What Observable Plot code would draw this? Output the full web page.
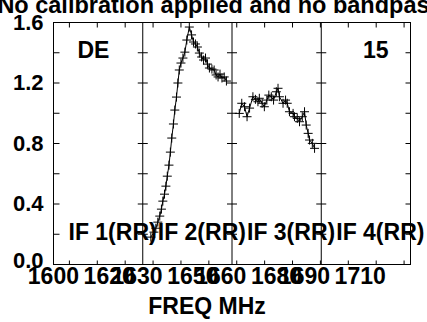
<!DOCTYPE html>
<html>
<head>
<meta charset="utf-8">
<script src="https://cdn.jsdelivr.net/npm/d3@7"></script>
<script src="https://cdn.jsdelivr.net/npm/@observablehq/plot@0.6"></script>
<style>
  html, body { margin: 0; padding: 0; background: white; overflow: hidden; }
</style>
</head>
<body>
<div id="chart"></div>
<script>
// ---- data ----
const title = "No calibration applied and no bandpass";
const sourceLabel = "DE";
const baselineLabel = "15";
const xAxisLabel = "FREQ MHz";
const panelEdges = [1594.3, 1626.3, 1658.3, 1690.3, 1722.3];
const ifLabels = ["IF 1(RR)", "IF 2(RR)", "IF 3(RR)", "IF 4(RR)"];
const xTickLabels = [1600, 1620, 1630, 1650, 1660, 1680, 1690, 1710];
const xMinorTicks = [1600, 1610, 1620, 1630, 1640, 1650, 1660, 1670, 1680, 1690, 1700, 1710, 1720];
const yLabels = [0.0, 0.4, 0.8, 1.2, 1.6];
const yMinorTicks = [0.2, 0.4, 0.6, 0.8, 1.0, 1.2, 1.4];

const if2Freq = [1629.2, 1630.3, 1631.0, 1631.7, 1632.4, 1633.0, 1633.5, 1634.1, 1634.6, 1635.1,
                 1635.7, 1636.2, 1636.7, 1637.3, 1637.8, 1638.4, 1638.9, 1639.4, 1640.0, 1640.7,
                 1641.4, 1642.1, 1643.0, 1643.8, 1644.5, 1645.2, 1645.9, 1646.6, 1647.4, 1648.1,
                 1648.8, 1649.5, 1650.2, 1651.1, 1651.9, 1652.6, 1653.3, 1654.0, 1654.7, 1655.5, 1656.3];
const if2Amp  = [0.181, 0.214, 0.240, 0.280, 0.320, 0.366, 0.419, 0.465, 0.518, 0.584,
                 0.657, 0.743, 0.836, 0.929, 1.021, 1.107, 1.200, 1.286, 1.332, 1.365,
                 1.404, 1.484, 1.570, 1.518, 1.471, 1.458, 1.438, 1.398, 1.372, 1.352,
                 1.365, 1.325, 1.299, 1.292, 1.286, 1.253, 1.240, 1.259, 1.233, 1.240, 1.213];

const if3Freq = [1660.9, 1661.8, 1662.8, 1663.7, 1664.6, 1665.8, 1666.7, 1667.6, 1668.1, 1669.1,
                 1669.9, 1670.8, 1671.5, 1672.4, 1673.2, 1674.2, 1674.8, 1675.3, 1676.6, 1677.5,
                 1678.1, 1678.9, 1680.2, 1680.7, 1681.7, 1682.5, 1683.5, 1684.3, 1684.9, 1685.6,
                 1686.1, 1687.1, 1687.9];
const if3Amp  = [0.999, 1.066, 1.043, 0.977, 1.034, 1.109, 1.092, 1.076, 1.099, 1.066,
                 1.043, 1.087, 1.120, 1.109, 1.087, 1.142, 1.165, 1.109, 1.066, 1.087,
                 1.066, 1.010, 0.999, 0.977, 0.966, 0.944, 0.977, 1.010, 0.922, 0.867,
                 0.823, 0.801, 0.768];

// ---- tables built from the arrays ----
const rows = [
  ...if2Freq.map((f, i) => ({ifnum: 2, freq: f, amp: if2Amp[i]})),
  ...if3Freq.map((f, i) => ({ifnum: 3, freq: f, amp: if3Amp[i]}))
];
const innerEdges = panelEdges.slice(1, -1);
const leftEdge = panelEdges[0];
const rightEdge = panelEdges[panelEdges.length - 1];
const yTop = yLabels[yLabels.length - 1];
const yBottom = yLabels[0];

// custom stroke symbols
const mk = (fn) => ({draw(ctx, size) { const r = Math.sqrt(size / Math.PI); fn(ctx, r); }});
const plusSym  = mk((c, r) => { c.moveTo(-r, 0); c.lineTo(r, 0); c.moveTo(0, -r); c.lineTo(0, r); });
const tickR    = mk((c, r) => { c.moveTo(0, 0); c.lineTo(r, 0); });
const tickL    = mk((c, r) => { c.moveTo(-r, 0); c.lineTo(0, 0); });
const tickLR   = mk((c, r) => { c.moveTo(-r, 0); c.lineTo(r, 0); });
const tickUp   = mk((c, r) => { c.moveTo(0, 0); c.lineTo(0, -r); });
const tickDown = mk((c, r) => { c.moveTo(0, 0); c.lineTo(0, r); });

const font = "'Liberation Sans', Arial, Helvetica, sans-serif";
const fs = 23;

const chart = Plot.plot({
  width: 427,
  height: 322,
  marginLeft: 53,
  marginRight: 17,
  marginTop: 22,
  marginBottom: 58,
  x: {domain: [leftEdge, rightEdge], axis: null},
  y: {domain: [yBottom, yTop], axis: null},
  style: {fontFamily: font, fontWeight: "bold", fontSize: fs + "px", background: "white", overflow: "hidden"},
  marks: [
    Plot.frame({stroke: "black", strokeWidth: 1}),
    Plot.ruleX(innerEdges, {stroke: "black", strokeWidth: 1}),
    // y ticks
    Plot.dot(yMinorTicks, {x: () => leftEdge, y: d => d, symbol: tickR, r: 6, fill: "none", stroke: "black", strokeWidth: 1}),
    Plot.dot(yMinorTicks, {x: () => rightEdge, y: d => d, symbol: tickL, r: 5, fill: "none", stroke: "black", strokeWidth: 1}),
    Plot.dot(d3.cross(yMinorTicks, innerEdges), {x: d => d[1], y: d => d[0], symbol: tickLR, r: 5, fill: "none", stroke: "black", strokeWidth: 1}),
    // x ticks
    Plot.dot(xMinorTicks, {x: d => d, y: () => yTop, symbol: tickDown, r: 5, fill: "none", stroke: "black", strokeWidth: 1}),
    Plot.dot(xMinorTicks, {x: d => d, y: () => yBottom, symbol: tickUp, r: 4, fill: "none", stroke: "black", strokeWidth: 1}),
    // data
    Plot.line(rows, {x: "freq", y: "amp", z: "ifnum", stroke: "black", strokeWidth: 1}),
    Plot.dot(rows, {x: "freq", y: "amp", symbol: plusSym, r: 4.5, fill: "none", stroke: "black", strokeWidth: 1}),
    // y labels
    Plot.text(yLabels.filter(d => d > 0), {y: d => d, frameAnchor: "left", textAnchor: "end", dx: -10, text: d => d.toFixed(1), fontSize: 22, fontWeight: "bold", fill: "black"}),
    Plot.text(yLabels.filter(d => d === 0), {y: d => d, frameAnchor: "left", textAnchor: "end", dx: -10, dy: -4, text: d => d.toFixed(1), fontSize: 22, fontWeight: "bold", fill: "black"}),
    // x labels
    Plot.text(xTickLabels, {x: d => d, frameAnchor: "bottom", dy: 19, dx: -16, text: d => String(d), fontSize: fs, fontWeight: "bold", fill: "black"}),
    Plot.text([xAxisLabel], {frameAnchor: "bottom", dy: 49, dx: -25, text: d => d, fontSize: fs, fontWeight: "bold", fill: "black"}),
    // panel labels
    Plot.text(ifLabels, {x: (d, i) => panelEdges[i], frameAnchor: "bottom", dy: -25, dx: 15, textAnchor: "start", text: d => d, fontSize: fs, fontWeight: "bold", fill: "black"}),
    Plot.text([sourceLabel], {frameAnchor: "top-left", dx: 24, dy: 19, textAnchor: "start", text: d => d, fontSize: fs, fontWeight: "bold", fill: "black"}),
    Plot.text([baselineLabel], {frameAnchor: "top-right", dx: -22, dy: 19, textAnchor: "end", text: d => d, fontSize: fs, fontWeight: "bold", fill: "black"}),
    // title
    Plot.text([title], {frameAnchor: "top", dx: -12, dy: -10, lineAnchor: "bottom", text: d => d, fontSize: 23.5, fontWeight: "bold", fill: "black"})
  ]
});
document.getElementById("chart").appendChild(chart);
</script>
</body>
</html>
